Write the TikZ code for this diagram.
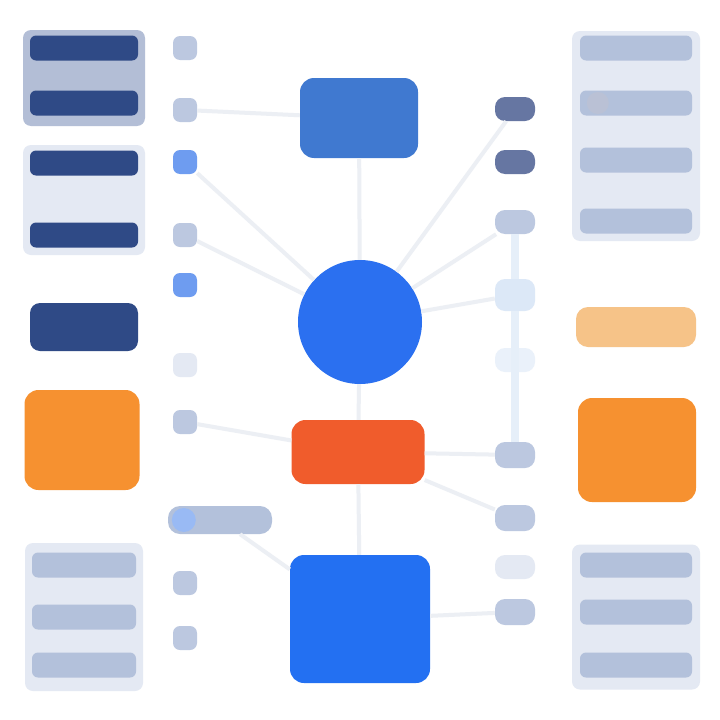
\documentclass[tikz,border=0pt]{standalone}
\usetikzlibrary{positioning}
\definecolor{navy}{HTML}{2F4A86}
\definecolor{panelblue}{HTML}{B3BED6}
\definecolor{paleblue}{HTML}{E4E9F3}
\definecolor{barlight}{HTML}{B3C1DB}
\definecolor{iconpale}{HTML}{BCC8E0}
\definecolor{iconblue}{HTML}{6E9CF0}
\definecolor{icondark}{HTML}{6676A2}
\definecolor{midblue}{HTML}{4079D0}
\definecolor{hubblue}{HTML}{2B70F0}
\definecolor{brightblue}{HTML}{2370F2}
\definecolor{redorange}{HTML}{F05C2C}
\definecolor{orange}{HTML}{F69130}
\definecolor{paleorange}{HTML}{F6C388}
\definecolor{linkgray}{HTML}{ECEFF4}
\definecolor{linkblue}{HTML}{DCE8F7}
\tikzset{
    bar/.style={rounded corners=6pt, minimum width=108pt, minimum height=25pt, inner sep=0pt},
    icon/.style={rounded corners=7pt, minimum width=24pt, minimum height=24pt, inner sep=0pt},
    block/.style={rounded corners=14pt, inner sep=0pt},
    link/.style={line width=4pt, draw=linkgray},
}
\begin{document}
\begin{tikzpicture}[x=1pt, y=-1pt]
    \useasboundingbox[fill=white] (0,0) rectangle (720,720);

    % connectors first
    \node[block, fill=midblue, minimum width=118pt, minimum height=80pt] (top) at (359,118) {};
    \node[circle, fill=hubblue, minimum size=124pt, inner sep=0pt] (hub) at (360,322) {};
    \node[block, fill=redorange, minimum width=133pt, minimum height=64pt] (red) at (358,452) {};
    \node[block, fill=brightblue, minimum width=140pt, minimum height=128pt] (square) at (360,619) {};

    \foreach \i/\y/\c in {1/48/iconpale, 2/110/iconpale, 3/162/iconblue, 4/235/iconpale, 5/285/iconblue, 6/365/paleblue, 7/422/iconpale, 9/583/iconpale, 10/638/iconpale} {
        \node[icon, fill=\c] (li\i) at (185,\y) {};
    }
    \node[rounded corners=12pt, fill=barlight, minimum width=104pt, minimum height=28pt, inner sep=0pt] (li8) at (220,520) {};
    \node[circle, fill=iconblue!70, minimum size=24pt, inner sep=0pt] at (li8.west) [xshift=16pt] {};

    \foreach \i/\y/\c/\h in {1/109/icondark/24, 2/162/icondark/24, 3/222/iconpale/24, 4/295/linkblue/32, 5/360/linkblue!60/24, 6/455/iconpale/26, 7/518/iconpale/26, 8/567/paleblue/24, 9/612/iconpale/26} {
        \node[icon, rounded corners=10pt, fill=\c, minimum width=40pt, minimum height=\h pt] (ri\i) at (515,\y) {};
    }

    \draw[link] (li2) -- (top);
    \draw[link] (li3) -- (hub);
    \draw[link] (li4) -- (hub);
    \draw[link] (li7) -- (red);
    \draw[link] (li8) -- (square);
    \draw[link] (top) -- (hub);
    \draw[link] (hub) -- (red);
    \draw[link] (red) -- (square);
    \draw[link] (hub) -- (ri1);
    \draw[link] (hub) -- (ri3);
    \draw[link] (hub) -- (ri4);
    \draw[link] (red) -- (ri6);
    \draw[link] (red) -- (ri7);
    \draw[link] (ri9) -- (square);
    \draw[line width=8pt, draw=linkblue!70] (ri3) -- (ri4) -- (ri6);

    % left column
    \node[rounded corners=8pt, fill=panelblue, minimum width=122pt, minimum height=96pt] (lpanel) at (84,78) {};
    \node[rounded corners=8pt, fill=paleblue, minimum width=122pt, minimum height=110pt] (lpanel1) at (84,200) {};
    \foreach \i/\y in {1/48, 2/103, 3/163, 4/235} {
        \node[bar, fill=navy] (lb\i) at (84,\y) {};
    }
    \node[bar, fill=navy, minimum height=48pt, rounded corners=10pt] (lb5) at (84,327) {};
    \node[block, fill=orange, minimum width=115pt, minimum height=100pt] (lorange) at (82,440) {};
    \node[rounded corners=8pt, fill=paleblue, minimum width=118pt, minimum height=148pt] (lpanel2) at (84,617) {};
    \foreach \i/\y in {1/565, 2/617, 3/665} {
        \node[bar, fill=barlight, minimum width=104pt] (lbb\i) at (84,\y) {};
    }

    % right column
    \node[rounded corners=8pt, fill=paleblue, minimum width=128pt, minimum height=210pt] (rpanel) at (636,136) {};
    \foreach \i/\y in {1/48, 2/103, 3/160, 4/221} {
        \node[bar, fill=barlight, minimum width=112pt] (rb\i) at (636,\y) {};
    }
    \node[circle, fill=icondark!45, minimum size=22pt, inner sep=0pt] at (rb2.west) [xshift=18pt] {};
    \node[bar, fill=paleorange, minimum width=120pt, minimum height=40pt, rounded corners=12pt] (rpale) at (636,327) {};
    \node[block, fill=orange, minimum width=118pt, minimum height=104pt] (rorange) at (637,450) {};
    \node[rounded corners=8pt, fill=paleblue, minimum width=128pt, minimum height=145pt] (rpanel2) at (636,617) {};
    \foreach \i/\y in {1/565, 2/612, 3/665} {
        \node[bar, fill=barlight, minimum width=112pt] (rbb\i) at (636,\y) {};
    }
\end{tikzpicture}
\end{document}
